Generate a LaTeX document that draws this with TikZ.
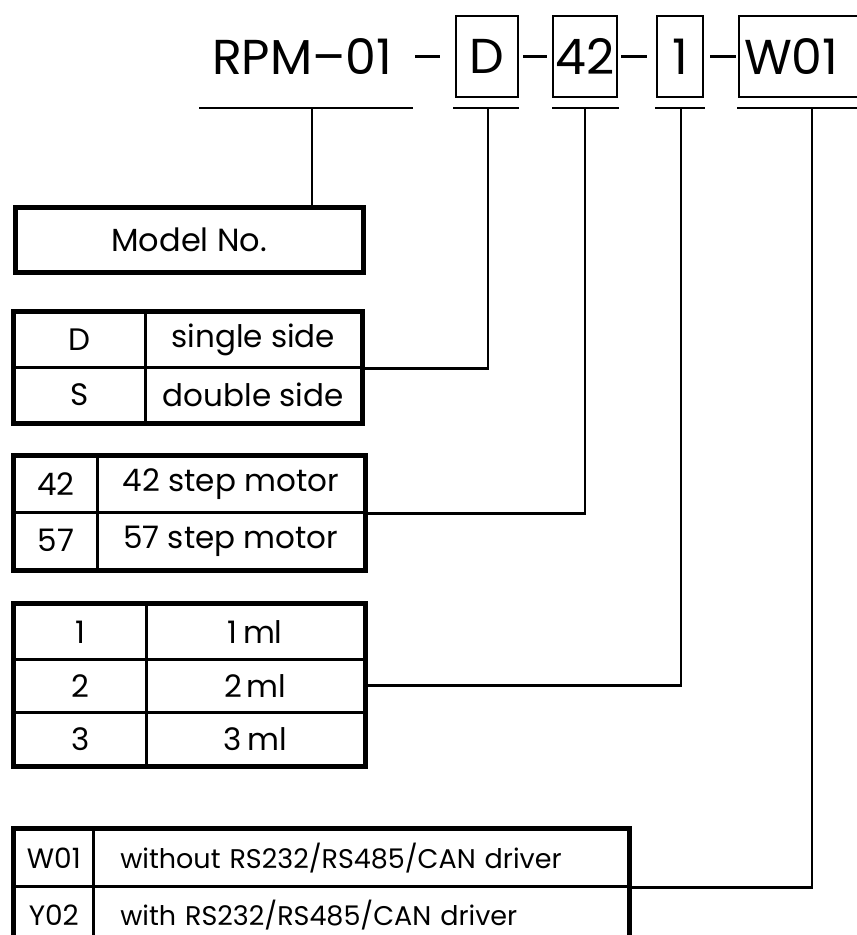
\documentclass[tikz,border=0pt]{standalone}
\usepackage{fontspec}
\setmainfont{Poppins}
\usetikzlibrary{positioning,calc}

\tikzset{
  hdrbox/.style={draw,line width=2.6pt,minimum height=81,inner sep=0pt,font=\fontsize{49}{49}\selectfont},
  cell/.style={draw,line width=2.6pt,anchor=north west,inner sep=0pt,font=\fontsize{31}{31}\selectfont},
  wcell/.style={cell,font=\fontsize{27}{27}\selectfont},
  wire/.style={line width=2.8pt},
  frame/.style={line width=4.5pt},
}

\begin{document}
\begin{tikzpicture}[x=1pt,y=-1pt]
\useasboundingbox (0,0) rectangle (857,935);
% part number on top
\node[font=\fontsize{49}{49}\selectfont,inner sep=3pt] (rpm) at (302,56.5){RPM–01};
\node[hdrbox,minimum width=62] (bD) at (487,56.5){D};
\node[hdrbox,minimum width=64] (b42) at (585,56.5){42};
\node[hdrbox,minimum width=46] (b1) at (680,56.5){1};
\node[hdrbox,minimum width=146,text width=136,inner xsep=5pt,align=left] (bW) at (812,56.5){W01};
\draw[wire,shorten <=20pt,shorten >=15pt] (rpm.east)--(bD.west);
\draw[wire,shorten <=4pt,shorten >=5pt] (bD)--(b42);
\draw[wire,shorten <=3pt,shorten >=9pt] (b42)--(b1);
\draw[wire,shorten <=6pt,shorten >=2pt] (b1)--(bW);
% underlines
\draw[wire] (199,108)--(413,108);\draw[wire] (453,108)--(519,108);
\draw[wire] (552,108)--(619,108);\draw[wire] (655,108)--(705,108);
\draw[wire] (737,108)--(870,108);
\coordinate (uRPM) at (312,108);\coordinate (uD) at (488,108);
\coordinate (u42) at (585,108);\coordinate (u1) at (681,108);\coordinate (uW) at (812,108);

% model
\node[cell,frame,minimum width=348,minimum height=65,font=\fontsize{32}{32}\selectfont] (model) at (13,205){Model No.};

% side
\node[cell,minimum width=131,minimum height=55] (sD) at (13,311){D};
\node[cell,minimum width=216,minimum height=55] (sDt) at (144,311){single side};
\node[cell,minimum width=131,minimum height=55] (sS) at (13,366){S};
\node[cell,minimum width=216,minimum height=55] (sSt) at (144,366){double side};
\draw[frame] (sD.north west) rectangle (sSt.south east);

% motor
\node[cell,minimum width=83,minimum height=56] (m42) at (13,455){42};
\node[cell,minimum width=267,minimum height=56] (m42t) at (96,455){42 step motor};
\node[cell,minimum width=83,minimum height=57] (m57) at (13,511){57};
\node[cell,minimum width=267,minimum height=57] (m57t) at (96,511){57 step motor};
\draw[frame] (m42.north west) rectangle (m57t.south east);

% volume
\node[cell,minimum width=132,minimum height=55] (v1) at (13,603){1};
\node[cell,minimum width=218,minimum height=55] (v1t) at (145,603){1\,ml};
\node[cell,minimum width=132,minimum height=53] (v2) at (13,658){2};
\node[cell,minimum width=218,minimum height=53] (v2t) at (145,658){2\,ml};
\node[cell,minimum width=132,minimum height=53] (v3) at (13,711){3};
\node[cell,minimum width=218,minimum height=53] (v3t) at (145,711){3\,ml};
\draw[frame] (v1.north west) rectangle (v3t.south east);

% driver
\node[wcell,minimum width=79,minimum height=57,font=\fontsize{28}{28}\selectfont] (w1) at (13,828){W01};
\node[wcell,minimum width=535,minimum height=57,text width=481,inner xsep=27pt,align=left] (w1t) at (92,828){without RS232/RS485/CAN driver};
\node[wcell,minimum width=79,minimum height=57,font=\fontsize{28}{28}\selectfont] (w2) at (13,885){Y02};
\node[wcell,minimum width=535,minimum height=57,text width=481,inner xsep=27pt,align=left] (w2t) at (92,885){with RS232/RS485/CAN driver};
\draw[frame] (w1.north west) rectangle (w2t.south east);

% connectors
\draw[wire] (uRPM)--(uRPM |- model.north);
\draw[wire] (uD) |- (sDt.south east);
\draw[wire] (u42) |- (m42t.south east);
\draw[wire] (u1) |- (v2t.east);
\draw[wire] (uW) |- (w1t.south east);
\end{tikzpicture}
\end{document}
